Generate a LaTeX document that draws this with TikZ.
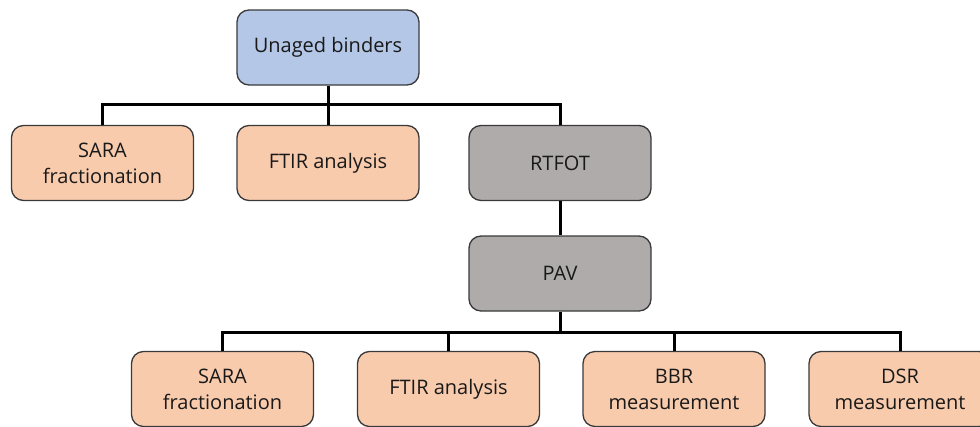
\documentclass[tikz,border=0pt]{standalone}
\usepackage{fontspec}
\setmainfont{Open Sans}
\definecolor{bluefill}{HTML}{B4C7E7}
\definecolor{orangefill}{HTML}{F8CBAD}
\definecolor{grayfill}{HTML}{AFABAB}
\definecolor{boxline}{HTML}{3A3A3A}
\begin{document}
\begin{tikzpicture}[x=1pt,y=-1pt,
  box/.style={draw=boxline,line width=1.3pt,rounded corners=12pt,minimum width=182pt,minimum height=75pt,
    align=center,font=\fontsize{20}{26}\selectfont,inner sep=0pt,text=black!90},
  bluebox/.style={box,fill=bluefill},
  orangebox/.style={box,fill=orangefill},
  graybox/.style={box,fill=grayfill},
  conn/.style={line width=3pt,black}]
\useasboundingbox (0,0) rectangle (980,426);
\clip (0,0) rectangle (980,426);
\node[bluebox] (unaged) at (328,47.5) {Unaged binders};
\node[orangebox] (sara1) at (102.5,163) {SARA\\fractionation};
\node[orangebox] (ftir1) at (328,163) {FTIR analysis};
\node[graybox] (rtfot) at (560,163) {RTFOT};
\node[graybox] (pav) at (560,273.5) {PAV};
\node[orangebox] (sara2) at (222.5,389) {SARA\\fractionation};
\node[orangebox] (ftir2) at (448.5,389) {FTIR analysis};
\node[orangebox] (bbr) at (674,389) {BBR\\measurement};
\node[orangebox] (dsr) at (900,389) {DSR\\measurement};
\coordinate (j1) at (328,104);
\coordinate (j2) at (560,332);
\draw[conn] (unaged.south) -- (j1);
\draw[conn] (sara1.north) |- (j1);
\draw[conn] (j1) -- (ftir1.north);
\draw[conn] (rtfot.north) |- (j1);
\draw[conn] (rtfot.south) -- (pav.north);
\draw[conn] (pav.south) -- (j2);
\draw[conn] (sara2.north) |- (j2);
\draw[conn] (ftir2.north) |- (j2);
\draw[conn] (bbr.north) |- (j2);
\draw[conn] (dsr.north) |- (j2);
\end{tikzpicture}
\end{document}
